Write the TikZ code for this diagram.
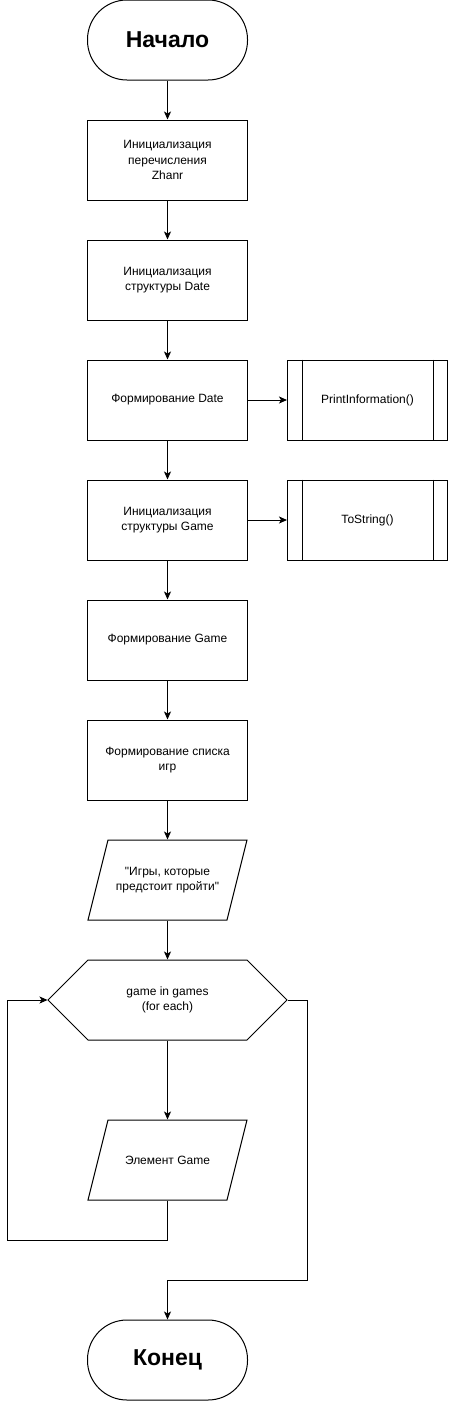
\documentclass[tikz,border=0pt]{standalone}
\usepackage{fontspec}
\newfontfamily\af{Liberation Sans}
\usetikzlibrary{arrows.meta}
\begin{document}
\begin{tikzpicture}[x=1pt,y=-1pt,line width=1pt,
  box/.style={draw,minimum width=160pt,minimum height=80pt,align=center,inner sep=0pt,font=\af\fontsize{12}{15.5}\selectfont},
  term/.style={draw,rounded corners=39.5pt,minimum width=160pt,minimum height=80pt,inner sep=0pt,font=\af\fontsize{23}{26}\selectfont\bfseries},
  txt/.style={minimum width=#1,minimum height=80pt,align=center,inner sep=0pt,font=\af\fontsize{12}{15.5}\selectfont},
  arr/.style={-{Stealth[length=8pt,width=7pt,inset=2pt]}}]
\useasboundingbox (0,0) rectangle (448,1401);
\fill[white] (0,0) rectangle (448,1401);
\node[term] (start) at (167.5,40) {Начало};
\node[box] (b1) at (167.5,160) {Инициализация\\перечисления\\Zhanr};
\node[box] (b2) at (167.5,280) {Инициализация\\структуры Date};
\node[box] (b3) at (167.5,400) {Формирование Date};
\node[box] (pr1) at (367.5,400) {PrintInformation()};
\node[box] (b4) at (167.5,520) {Инициализация\\структуры Game};
\node[box] (pr2) at (367.5,520) {ToString()};
\node[box] (b5) at (167.5,640) {Формирование Game};
\node[box] (b6) at (167.5,760) {Формирование списка\\игр};
\node[txt=140pt] (p1) at (167.5,880) {"Игры, которые\\предстоит пройти"};
\node[txt=239pt] (hex) at (167.5,1000) {game in games\\(for each)};
\node[txt=140pt] (p2) at (167.5,1160) {Элемент Game};
\node[term] (end) at (167.5,1360) {Конец};
\foreach \n in {pr1,pr2}{
  \draw ([xshift=15pt]\n.north west) -- ([xshift=15pt]\n.south west);
  \draw ([xshift=-15pt]\n.north east) -- ([xshift=-15pt]\n.south east);
}
\draw (108,840) -- (247,840) -- (227,920) -- (88,920) -- cycle;
\draw (108,1120) -- (247,1120) -- (227,1200) -- (88,1200) -- cycle;
\draw (48,1000) -- (88,960) -- (247,960) -- (287,1000) -- (247,1040) -- (88,1040) -- cycle;
\coordinate (lb) at (7,1240);
\coordinate (rt) at (307,1280);
\draw[arr] (start) -- (b1);
\draw[arr] (b1) -- (b2);
\draw[arr] (b2) -- (b3);
\draw[arr] (b3) -- (b4);
\draw[arr] (b4) -- (b5);
\draw[arr] (b5) -- (b6);
\draw[arr] (b6) -- (p1);
\draw[arr] (p1) -- (hex);
\draw[arr] (hex) -- (p2);
\draw[arr] (b3) -- (pr1);
\draw[arr] (b4) -- (pr2);
\draw[arr] (p2.south) |- (lb) |- (hex.west);
\draw[arr] (hex.east) -| (rt) -| (end.north);
\end{tikzpicture}
\end{document}
